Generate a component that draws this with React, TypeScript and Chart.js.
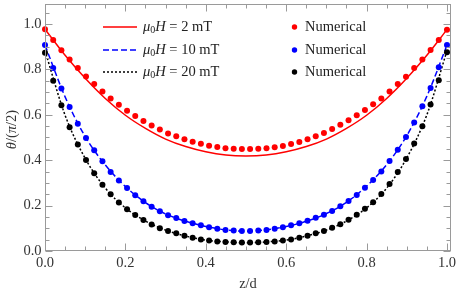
import React, { useEffect, useRef } from 'react';
import { Chart, registerables } from 'chart.js';
Chart.register(...registerables);

// ---- data ----
const zDots = [
  0, 0.0204, 0.0408, 0.0612, 0.0816, 0.1020, 0.1224, 0.1429, 0.1633, 0.1837,
  0.2041, 0.2245, 0.2449, 0.2653, 0.2857, 0.3061, 0.3265, 0.3469, 0.3673, 0.3878,
  0.4082, 0.4286, 0.4490, 0.4694, 0.4898, 0.5102, 0.5306, 0.5510, 0.5714, 0.5918,
  0.6122, 0.6327, 0.6531, 0.6735, 0.6939, 0.7143, 0.7347, 0.7551, 0.7755, 0.7959,
  0.8163, 0.8367, 0.8571, 0.8776, 0.8980, 0.9184, 0.9388, 0.9592, 0.9796, 1,
];
const redDots = [
  0.977, 0.929, 0.884, 0.843, 0.806, 0.769, 0.736, 0.703, 0.672, 0.644,
  0.618, 0.595, 0.573, 0.553, 0.535, 0.518, 0.505, 0.492, 0.481, 0.472,
  0.464, 0.458, 0.453, 0.450, 0.449, 0.449, 0.450, 0.453, 0.457, 0.463,
  0.471, 0.480, 0.492, 0.506, 0.520, 0.537, 0.556, 0.576, 0.598, 0.621,
  0.646, 0.672, 0.703, 0.736, 0.768, 0.806, 0.843, 0.885, 0.929, 0.975,
];
const blueDots = [
  0.907, 0.806, 0.716, 0.634, 0.560, 0.498, 0.444, 0.395, 0.348, 0.311,
  0.277, 0.246, 0.219, 0.195, 0.175, 0.158, 0.145, 0.132, 0.122, 0.113,
  0.105, 0.098, 0.093, 0.090, 0.088, 0.088, 0.090, 0.093, 0.098, 0.105,
  0.113, 0.122, 0.133, 0.147, 0.160, 0.176, 0.197, 0.220, 0.247, 0.279,
  0.313, 0.350, 0.396, 0.446, 0.502, 0.566, 0.638, 0.718, 0.809, 0.907,
];
const blackDots = [
  0.873, 0.750, 0.642, 0.545, 0.469, 0.401, 0.343, 0.292, 0.250, 0.214,
  0.184, 0.159, 0.137, 0.117, 0.100, 0.088, 0.078, 0.067, 0.058, 0.051,
  0.046, 0.042, 0.040, 0.038, 0.037, 0.037, 0.038, 0.040, 0.042, 0.046,
  0.051, 0.058, 0.067, 0.078, 0.088, 0.102, 0.118, 0.138, 0.160, 0.186,
  0.215, 0.251, 0.295, 0.348, 0.405, 0.474, 0.550, 0.645, 0.752, 0.875,
];
const zLine = [
  0, 0.05, 0.1, 0.15, 0.2, 0.25, 0.3, 0.35, 0.4, 0.45, 0.5,
  0.55, 0.6, 0.65, 0.7, 0.75, 0.8, 0.85, 0.9, 0.95, 1,
];
const redLine = [
  0.977, 0.862, 0.761, 0.672, 0.598, 0.540, 0.493, 0.460, 0.437, 0.423, 0.419,
  0.423, 0.437, 0.460, 0.493, 0.540, 0.598, 0.672, 0.761, 0.862, 0.975,
];
const blueLine = [
  0.907, 0.679, 0.504, 0.379, 0.284, 0.213, 0.163, 0.131, 0.108, 0.093, 0.087,
  0.093, 0.108, 0.131, 0.165, 0.214, 0.286, 0.380, 0.508, 0.682, 0.907,
];
const blackLine = [
  0.882, 0.598, 0.408, 0.277, 0.190, 0.132, 0.092, 0.066, 0.048, 0.040, 0.036,
  0.040, 0.048, 0.066, 0.092, 0.132, 0.190, 0.277, 0.410, 0.600, 0.882,
];
const xTickValues = [0, 0.2, 0.4, 0.6, 0.8, 1.0];
const xTickLabels = ['0.0', '0.2', '0.4', '0.6', '0.8', '1.0'];
const yTickValues = [0, 0.2, 0.4, 0.6, 0.8, 1.0];
const yTickLabels = ['0.0', '0.2', '0.4', '0.6', '0.8', '1.0'];
const fieldValues = ['2', '10', '20'];
const dotLabel = 'Numerical';
const xTitle = 'z/d';

// ---- styles ----
const COLORS = ['#ff0000', '#0000ff', '#000000'];
const DASHES = [[], [6, 3], [2, 2]];
const FONT = '"Liberation Serif", "Times New Roman", serif';
const FS = 14.5;
const X_MAX = 1.01;
const Y_MAX = 1.088;

const pts = (xs: number[], ys: number[]) => xs.map((x, i) => ({ x, y: ys[i] }));

const framePlugin = {
  id: 'framePlugin',
  afterDraw(chart: any) {
    const { ctx, chartArea: a, scales } = chart;
    const xs = scales.x;
    const ys = scales.y;
    ctx.save();
    const L = Math.round(a.left) + 0.5;
    const R = Math.round(a.right) - 0.5;
    const T = Math.round(a.top) + 0.5;
    const B = Math.round(a.bottom) - 0.5;
    ctx.strokeStyle = '#9a9a9a';
    ctx.lineWidth = 1;
    ctx.setLineDash([]);
    ctx.strokeRect(L, T, R - L, B - T);
    const seg = (x1: number, y1: number, x2: number, y2: number) => {
      ctx.beginPath();
      ctx.moveTo(x1, y1);
      ctx.lineTo(x2, y2);
      ctx.stroke();
    };
    for (let k = 0; k <= 20; k++) {
      const v = k * 0.05;
      const len = k % 4 === 0 ? 7 : 4;
      const px = Math.round(xs.getPixelForValue(v)) + 0.5;
      seg(px, B, px, B - len);
      seg(px, T, px, T + len);
    }
    for (let k = 0; k <= 21; k++) {
      const v = k * 0.05;
      if (v > Y_MAX) break;
      const len = k % 4 === 0 ? 7 : 4;
      const py = Math.round(ys.getPixelForValue(v)) + 0.5;
      seg(L, py, L + len, py);
      seg(R, py, R - len, py);
    }
    // tick labels
    ctx.fillStyle = '#333';
    ctx.font = `${FS}px ${FONT}`;
    ctx.textAlign = 'center';
    ctx.textBaseline = 'top';
    xTickValues.forEach((v, i) => {
      ctx.fillText(xTickLabels[i], xs.getPixelForValue(v), B + 5);
    });
    ctx.textAlign = 'right';
    ctx.textBaseline = 'middle';
    yTickValues.forEach((v, i) => {
      ctx.fillText(yTickLabels[i], L - 4, ys.getPixelForValue(v));
    });
    // x title
    ctx.textAlign = 'center';
    ctx.textBaseline = 'middle';
    ctx.fillText(xTitle, (a.left + a.right) / 2, 284);
    // y title: θ/(π/2)
    ctx.translate(12, (a.top + a.bottom) / 2 + 2);
    ctx.rotate(-Math.PI / 2);
    const parts: [string, boolean][] = [['θ', true], ['/(', false], ['π', true], ['/2)', false]];
    const fontOf = (it: boolean) => `${it ? 'italic ' : ''}${FS}px ${FONT}`;
    let total = 0;
    parts.forEach(([s, it]) => { ctx.font = fontOf(it); total += ctx.measureText(s).width; });
    let cx = -total / 2;
    ctx.textAlign = 'left';
    parts.forEach(([s, it]) => {
      ctx.font = fontOf(it);
      ctx.fillText(s, cx, 0);
      cx += ctx.measureText(s).width;
    });
    ctx.restore();

    // legend
    ctx.save();
    const rows = [27, 50, 72];
    rows.forEach((ry, i) => {
      ctx.strokeStyle = COLORS[i];
      ctx.lineWidth = 1.5;
      ctx.setLineDash(DASHES[i]);
      seg(103, ry, 137, ry);
      ctx.setLineDash([]);
      ctx.fillStyle = '#222';
      ctx.textAlign = 'left';
      ctx.textBaseline = 'middle';
      let x = 143;
      ctx.font = `italic ${FS}px ${FONT}`;
      ctx.fillText('μ', x, ry);
      x += ctx.measureText('μ').width;
      ctx.font = `10px ${FONT}`;
      ctx.fillText('0', x, ry + 3);
      x += ctx.measureText('0').width;
      ctx.font = `italic ${FS}px ${FONT}`;
      ctx.fillText('H', x, ry);
      x += ctx.measureText('H').width;
      ctx.font = `${FS}px ${FONT}`;
      ctx.fillText(` = ${fieldValues[i]} mT`, x, ry);
      // dot legend
      ctx.fillStyle = COLORS[i];
      ctx.beginPath();
      ctx.arc(294.5, ry, 2.7, 0, Math.PI * 2);
      ctx.fill();
      ctx.fillStyle = '#222';
      ctx.fillText(dotLabel, 305, ry);
    });
    ctx.restore();
  },
};

export default function App() {
  const ref = useRef<HTMLCanvasElement | null>(null);
  useEffect(() => {
    if (!ref.current) return;
    const dotSets = [redDots, blueDots, blackDots].map((d, i) => ({
      data: pts(zDots, d),
      showLine: false,
      pointRadius: 3,
      pointBorderWidth: 0,
      pointBackgroundColor: COLORS[i],
      pointBorderColor: COLORS[i],
      clip: false as any,
    }));
    const lineSets = [redLine, blueLine, blackLine].map((d, i) => ({
      data: pts(zLine, d),
      showLine: true,
      pointRadius: 0,
      borderWidth: 1.5,
      borderColor: COLORS[i],
      borderDash: DASHES[i],
      cubicInterpolationMode: 'monotone' as const,
      fill: false,
    }));
    const chart = new Chart(ref.current, {
      type: 'scatter',
      data: { datasets: [...dotSets, ...lineSets] as any },
      options: {
        responsive: false,
        animation: false,
        layout: { padding: { left: 45, right: 6, top: 1, bottom: 44 } },
        scales: {
          x: { type: 'linear', min: 0, max: X_MAX, display: false },
          y: { type: 'linear', min: 0, max: Y_MAX, display: false },
        },
        plugins: { legend: { display: false }, tooltip: { enabled: false } },
      },
      plugins: [framePlugin],
    });
    return () => chart.destroy();
  }, []);
  return (
    <div style={{ position: 'fixed', left: 0, top: 0, width: 457, height: 295, background: '#fff' }}>
      <canvas ref={ref} width={457} height={295} style={{ display: 'block' }} />
    </div>
  );
}
